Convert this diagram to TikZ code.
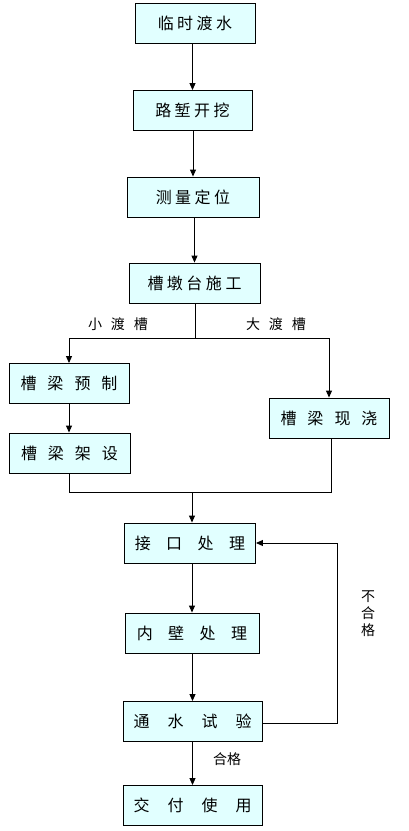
\documentclass[tikz,border=0pt]{standalone}
\usepackage{fontspec}
\newfontfamily\cjk{Noto Sans CJK SC}
\usetikzlibrary{arrows.meta}
\definecolor{boxfill}{RGB}{225,255,255}
\tikzset{
    stepbox/.style={draw, line width=0.9pt, fill=boxfill, rectangle, inner sep=0pt,
        minimum height=40pt, font=\cjk\fontsize{16pt}{18pt}\selectfont},
    note/.style={inner sep=0pt, font=\cjk\fontsize{14pt}{16pt}\selectfont},
    arr/.style={line width=0.9pt, -{Triangle[length=7pt,width=6pt]}},
    ln/.style={line width=0.9pt}
}
\begin{document}
\begin{tikzpicture}[x=1pt, y=-1pt]
\useasboundingbox (0,0) rectangle (409,831);
    \def\tight{\hspace{3.5pt}}
    \def\wide{\hspace{11pt}}
    \def\wider{\hspace{15.5pt}}
    \def\widest{\hspace{18pt}}

    % main column
    \node[stepbox, minimum width=120pt] (b1) at (195,23) {临\tight 时\tight 渡\tight 水};
    \node[stepbox, minimum width=119pt] (b2) at (192.5,110.5) {路\tight 堑\tight 开\tight 挖};
    \node[stepbox, minimum width=132pt] (b3) at (193,197) {测\tight 量\tight 定\tight 位};
    \node[stepbox, minimum width=131pt] (b4) at (194.5,283) {槽\tight 墩\tight 台\tight 施\tight 工};

    % two branches
    \node[stepbox, minimum width=120pt] (b5) at (69,383.5) {槽\wide 梁\wide 预\wide 制};
    \node[stepbox, minimum width=121pt] (b6) at (69.5,453) {槽\wide 梁\wide 架\wide 设};
    \node[stepbox, minimum width=120pt] (b7) at (329,418) {槽\wide 梁\wide 现\wide 浇};

    \node[stepbox, minimum width=131pt] (b8) at (190,543) {接\wider 口\wider 处\wider 理};
    \node[stepbox, minimum width=134pt] (b9) at (192,633) {内\wider 壁\wider 处\wider 理};
    \node[stepbox, minimum width=139pt] (b10) at (192.5,721.5) {通\widest 水\widest 试\widest 验};
    \node[stepbox, minimum width=139pt] (b11) at (192.5,805.5) {交\widest 付\widest 使\widest 用};

    \coordinate (fork) at (195,338);
    \coordinate (forkL) at (69,338);
    \coordinate (forkR) at (329,338);
    \coordinate (joinL) at (69,492);
    \coordinate (joinR) at (331,492);
    \coordinate (join) at (192,492);
    \coordinate (loop) at (337,723);

    \node[note] (small) at (118,324) {小\hspace{9pt}渡\hspace{9pt}槽};
    \node[note] (big) at (276,324) {大\hspace{9pt}渡\hspace{9pt}槽};
    \node[note, align=center] (fail) at (368,614) {不\\[1pt]合\\[1pt]格};
    \node[note] (pass) at (227,759) {合格};

    \foreach \from/\to in {b1/b2, b2/b3, b3/b4, b8/b9, b9/b10, b10/b11}
        \draw[arr] (\from.south -| \to.north) -- (\to.north);

    \draw[ln] (b4.south -| fork) -- (fork);
    \draw[ln] (forkL) -- (forkR);
    \draw[arr] (forkL) -- (b5.north);
    \draw[arr] (forkR) -- (b7.north);
    \draw[arr] (b5.south) -- (b6.north -| b5.south);

    \draw[ln] (b6.south -| joinL) -- (joinL) -- (joinR) -- (b7.south -| joinR);
    \draw[arr] (join) -- (b8.north -| join);

    \draw[arr] (b10.east |- loop) -- (loop) |- (b8.east);
\end{tikzpicture}
\end{document}
